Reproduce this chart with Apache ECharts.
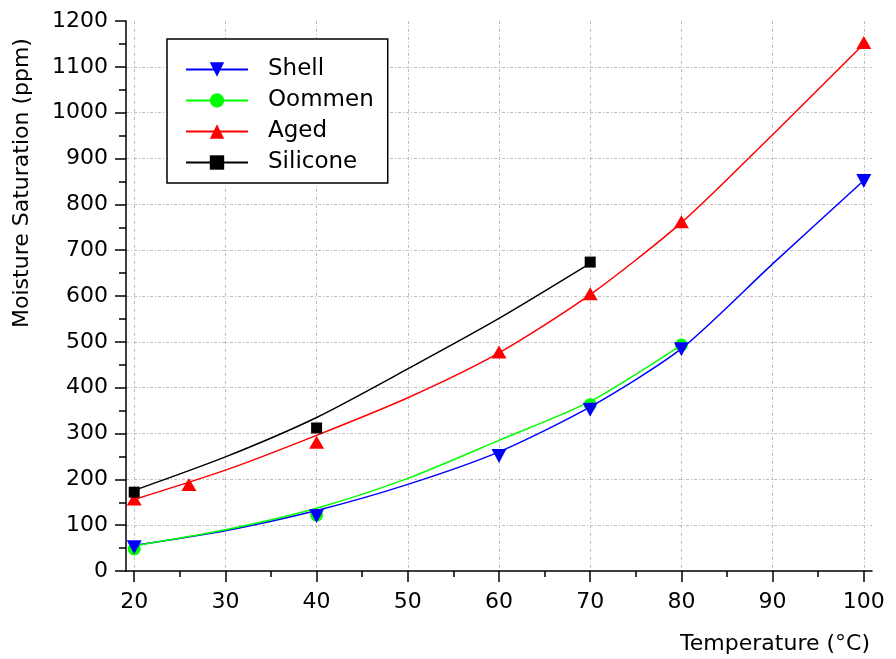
<!DOCTYPE html>
<html>
<head>
<meta charset="utf-8">
<script src="https://cdn.jsdelivr.net/npm/echarts@6/dist/echarts.min.js"></script>
<style>
html,body{margin:0;padding:0;background:#fff;}
#chart{width:896px;height:659px;}
</style>
</head>
<body>
<div id="chart"></div>
<script>
// ---- data ----
const seriesNames = ['Shell', 'Oommen', 'Aged', 'Silicone'];
const xTickValues = [20, 30, 40, 50, 60, 70, 80, 90, 100];
const xMinorTickValues = [25, 35, 45, 55, 65, 75, 85, 95];

// measured points [temperature, ppm]
const shellPoints = [[20, 52], [40, 120], [60, 251], [70, 352], [80, 484], [100, 851]];
const oommenPoints = [[20, 48], [40, 122], [70, 363], [80, 493]];
const agedPoints = [[20, 157], [26, 189], [40, 281], [60, 478], [70, 605], [80, 762], [100, 1153]];
const siliconePoints = [[20, 172], [40, 312], [70, 674]];

// fitted curves [temperature, ppm]
const shellCurve = [[20, 56], [30, 88], [40, 132], [50, 189], [60, 260], [70, 358], [80, 485], [90, 670], [100, 852]];
const oommenCurve = [[20, 55], [30, 90], [40, 137], [50, 202], [60, 285], [70, 370], [80, 493]];
const agedCurve = [[20, 156], [30, 220], [40, 296], [50, 378], [60, 476], [70, 603], [80, 760], [90, 952], [100, 1150]];
const siliconeCurve = [[20, 176], [30, 249], [40, 335], [50, 441], [60, 551], [70, 671]];

// ---- styles ----
const FONT = 'DejaVu Sans';
const colors = ['#0000ff', '#00ff00', '#ff0000', '#000000'];
const downTri = 'path://M0,0L20,0L10,18Z';
const symbols = [downTri, 'circle', 'triangle', 'rect'];
const symbolSizes = [[15, 14], 13, [15, 13], 11];
const curves = [shellCurve, oommenCurve, agedCurve, siliconeCurve];
const points = [shellPoints, oommenPoints, agedPoints, siliconePoints];

const series = [];
seriesNames.forEach((name, i) => {
  series.push({
    name: name,
    type: 'line',
    xAxisIndex: 0,
    data: curves[i],
    smooth: 0.25,
    showSymbol: false,
    symbol: symbols[i],
    symbolSize: symbolSizes[i],
    lineStyle: { color: colors[i], width: 1.5 },
    itemStyle: { color: colors[i] },
    z: 3
  });
});
seriesNames.forEach((name, i) => {
  series.push({
    name: name + ' data',
    type: 'scatter',
    xAxisIndex: 0,
    data: points[i],
    symbol: symbols[i],
    symbolSize: symbolSizes[i],
    itemStyle: { color: colors[i], opacity: 1 },
    z: 4 + (i === 0 ? 2 : 0)
  });
});

const gridLine = { show: true, lineStyle: { color: '#bdbdbd', width: 1, type: [3, 2, 1, 2] } };

const option = {
  backgroundColor: '#ffffff',
  animation: false,
  grid: { left: 126, right: 24, top: 21, bottom: 88, containLabel: false },
  legend: {
    data: seriesNames,
    orient: 'vertical',
    left: 167,
    top: 39,
    backgroundColor: '#ffffff',
    borderColor: '#000000',
    borderWidth: 1.5,
    borderRadius: 0,
    padding: [19, 14, 9, 18],
    itemWidth: 62,
    itemHeight: 18,
    itemGap: 8,
    textStyle: { fontFamily: FONT, fontSize: 23, color: '#000', padding: [0, 0, 0, 15] },
    z: 10
  },
  xAxis: [{
    type: 'value',
    min: 19.1,
    max: 100.9,
    position: 'bottom',
    name: 'Temperature (°C)',
    nameLocation: 'end',
    nameGap: -2,
    nameTextStyle: { fontFamily: FONT, fontSize: 22, color: '#000', align: 'right', verticalAlign: 'top', padding: [62, 0, 0, 0] },
    axisLine: { show: true, onZero: false, lineStyle: { color: '#000', width: 1.5 } },
    axisTick: { show: true, inside: false, length: 11, lineStyle: { color: '#000', width: 1.5 }, customValues: xTickValues },
    axisLabel: { show: true, margin: 20, fontFamily: FONT, fontSize: 22, color: '#000', customValues: xTickValues },
    splitLine: gridLine,
    minorTick: { show: false }
  }, {
    type: 'value',
    min: 19.1,
    max: 100.9,
    position: 'bottom',
    axisLine: { show: false },
    axisTick: { show: true, inside: false, length: 6, lineStyle: { color: '#000', width: 1.5 }, customValues: xMinorTickValues },
    axisLabel: { show: false },
    splitLine: { show: false }
  }],
  yAxis: {
    type: 'value',
    min: 0,
    max: 1200,
    interval: 100,
    name: 'Moisture Saturation (ppm)',
    nameLocation: 'middle',
    nameGap: 93,
    nameTextStyle: { fontFamily: FONT, fontSize: 22, color: '#000', padding: [0, 0, 0, 226] },
    axisLine: { show: true, onZero: false, lineStyle: { color: '#000', width: 1.5 } },
    axisTick: { show: true, inside: false, length: 11, lineStyle: { color: '#000', width: 1.5 } },
    minorTick: { show: true, splitNumber: 2, length: 7, lineStyle: { color: '#000', width: 1.5 } },
    axisLabel: { margin: 18, fontFamily: FONT, fontSize: 22, color: '#000', formatter: v => String(v) },
    splitLine: Object.assign({ showMinLine: false, showMaxLine: false }, gridLine)
  },
  series: series
};

const chart = echarts.init(document.getElementById('chart'), null, { renderer: 'canvas' });
chart.setOption(option);
</script>
</body>
</html>
